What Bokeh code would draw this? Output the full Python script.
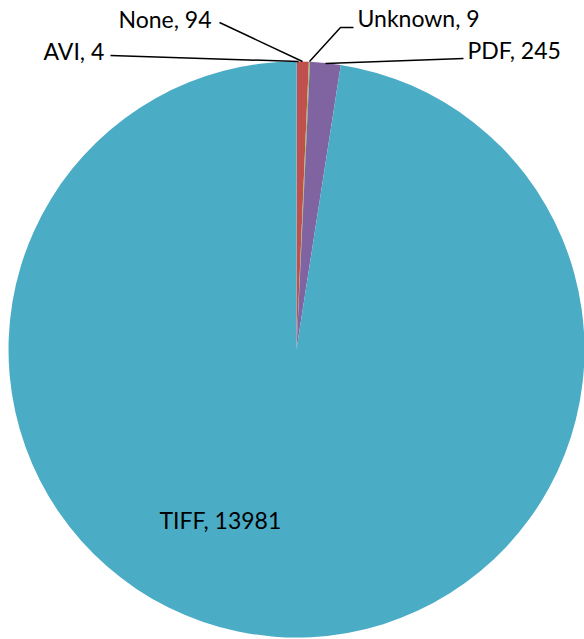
import math
from bokeh.plotting import figure
from bokeh.embed import file_html
from bokeh.resources import INLINE
from bokeh.core.properties import value

categories = ["AVI", "None", "Unknown", "PDF", "TIFF"]
counts = [4, 94, 9, 245, 13981]
colors = ["#4F81BD", "#C0504D", "#9BBB59", "#8064A2", "#4BACC6"]

W, H = 584, 639
p = figure(width=W, height=H, x_range=(0, W), y_range=(0, H),
           output_backend="svg", toolbar_location=None, min_border=0)
p.axis.visible = False
p.grid.visible = False
p.outline_line_color = None
p.background_fill_color = "white"
p.border_fill_color = "white"

cx, cy, r = 296, H - 349, 288
total = sum(counts)
starts, ends = [], []
acc = 0
for c in counts:
    starts.append(math.pi / 2 - 2 * math.pi * acc / total)
    acc += c
    ends.append(math.pi / 2 - 2 * math.pi * acc / total)

p.wedge(x=[cx] * len(counts), y=[cy] * len(counts), radius=r,
        start_angle=starts, end_angle=ends, direction="clock",
        fill_color=colors, line_color=None)

def fy(y):
    return H - y

# leader lines (pixel layout)
leaders = {
    "AVI": ([110, 298], [55, 61]),
    "None": ([219, 302], [22, 61]),
    "Unknown": ([353, 340, 309], [27, 27, 61]),
    "PDF": ([463, 325], [58, 63]),
}
for k, (xs, ys) in leaders.items():
    p.line(xs, [fy(v) for v in ys], line_color="black", line_width=1.5)

label_pos = {
    "AVI": (43, 50),
    "None": (118, 18),
    "Unknown": (357, 17),
    "PDF": (467, 49),
    "TIFF": (159, 519),
}
lx = [label_pos[c][0] for c in categories]
ly = [fy(label_pos[c][1]) for c in categories]
texts = [f"{c}, {n}" for c, n in zip(categories, counts)]
p.text(x=lx, y=ly, text=texts, text_align="left", text_baseline="middle",
       text_font=value("Lato"), text_font_size="23px", text_color="black")

open("out.html", "w").write(file_html(p, INLINE))
